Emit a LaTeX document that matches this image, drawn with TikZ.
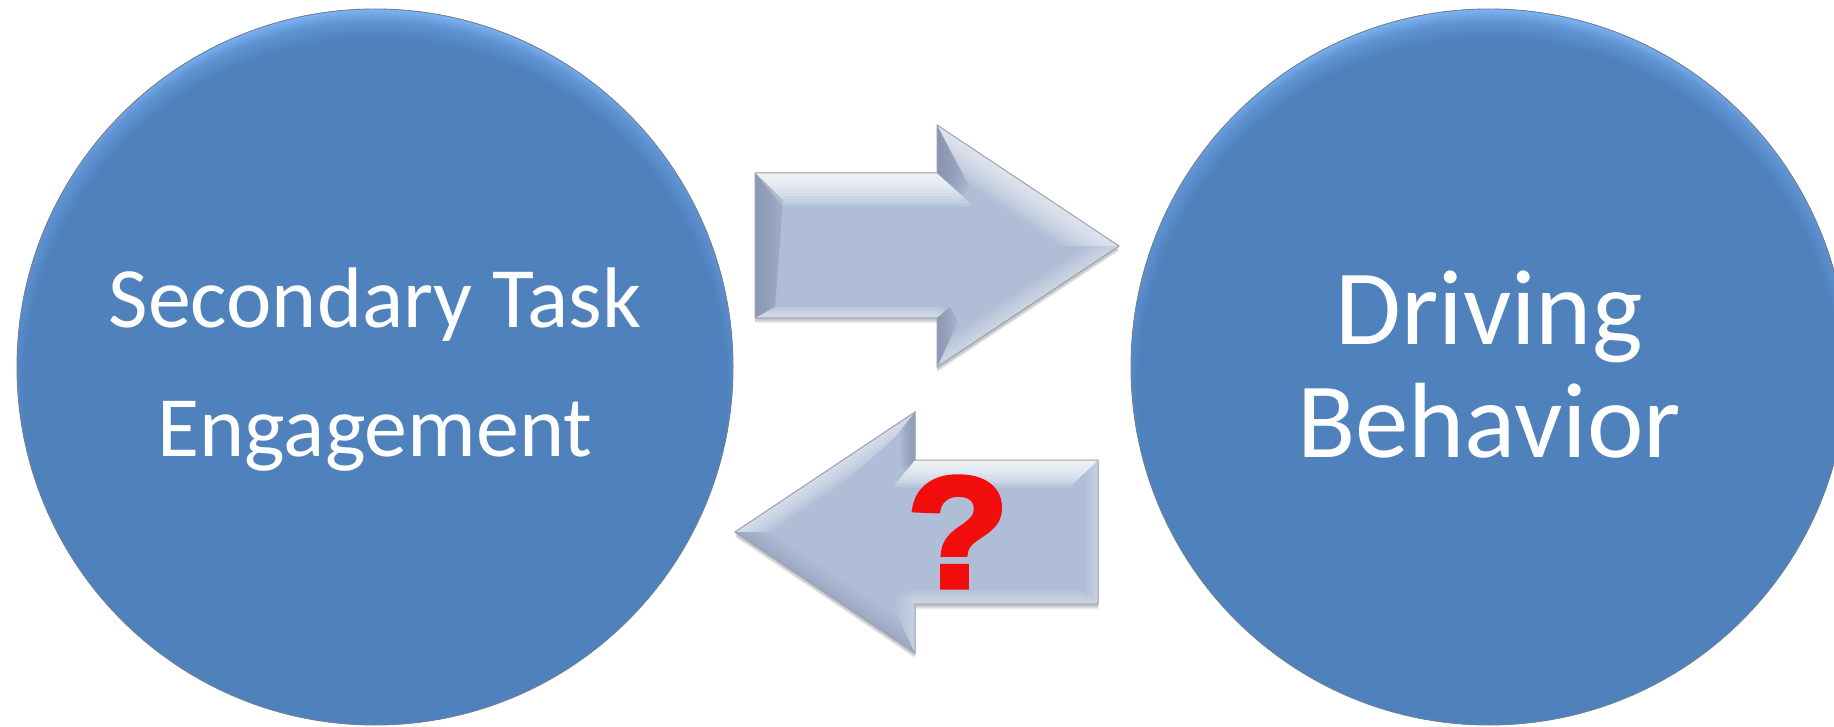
\documentclass[tikz,border=0pt]{standalone}
\usepackage{fontspec}
\setmainfont{Carlito}
\newfontfamily\qfont[BoldFeatures={FakeBold=3.2,FakeStretch=1.06}]{Liberation Sans}
\definecolor{ballbase}{HTML}{4F81BD}
\definecolor{ballmid}{HTML}{5F93D2}
\definecolor{balllight}{HTML}{7DB4F5}
\definecolor{ballline}{HTML}{6F8296}
\definecolor{arrowbase}{HTML}{AFBDD6}
\definecolor{arrowdark}{HTML}{7F8EA6}
\definecolor{arrowline}{HTML}{98A3B3}
\definecolor{qred}{HTML}{F20D0D}
\pgfdeclareradialshading{rimshade}{\pgfpoint{0bp}{0bp}}{color(0bp)=(ballbase); color(23.1bp)=(ballbase); color(24.2bp)=(ballmid); color(25bp)=(balllight); color(50bp)=(balllight)}
\tikzset{
  ball/.style={circle,minimum size=716pt,inner sep=0pt,draw=ballline,line width=0.9pt,
    path picture={\fill[shading=rimshade]([yshift=-22pt]path picture bounding box.center) circle (380pt);}},
  balltext/.style={text=white,align=center},
  arrowshape/.style={fill=arrowbase,draw=none},
  arrowedge/.style={draw=arrowline,line width=1pt,line join=miter},
  softshadow/.style={fill=black!45,opacity=.16,draw=none},
  qmark/.style={text=qred,inner sep=0pt,font=\qfont\bfseries\fontsize{158}{158}\selectfont}
}
% polygon, edge, colour, full width, opacity per step
\newcommand{\facet}[5]{\begin{scope}\clip #1;
  \foreach \w in {0.1,0.2,...,1.01}{\draw[line width={#4*\w},color=#3,opacity=#5,line cap=round] #2;}
\end{scope}}
\begin{document}
\begin{tikzpicture}[x=1pt,y=-1pt]
\useasboundingbox (0,0) rectangle (1834,727);
\clip (0,0) rectangle (1834,727);
\fill[white] (0,0) rectangle (1834,727);
\node[ball] (task) at (375,367) {};
\node[ball] (drive) at (1489,367) {};
\node[balltext,font=\fontsize{86}{129}\selectfont] (tasktext) at (375,370) {Secondary Task\\Engagement};
\node[balltext,font=\fontsize{107}{113}\selectfont] (drivetext) at (1489,365) {Driving\\Behavior};
% right arrow
\def\ra{(755,173)--(937,173)--(937,125)--(1119,246)--(937,367)--(937,318)--(755,318)--cycle}
\foreach \s in {2,3,4,5}{\fill[softshadow] ([yshift=-\s pt]755,173)--([yshift=-\s pt]937,173)--([yshift=-\s pt]937,125)--([yshift=-\s pt]1119,246)--([yshift=-\s pt]937,367)--([yshift=-\s pt]937,318)--([yshift=-\s pt]755,318)--cycle;}
\fill[arrowshape] \ra;
\facet{(755,173)--(937,173)--(975,208)--(783,208)--cycle}{(755,173)--(937,173)--(975,173)}{white}{66pt}{.16}
\facet{(755,173)--(783,200)--(775,307)--(755,318)--cycle}{(755,173)--(755,318)}{arrowdark}{70pt}{.11}
\facet{(755,318)--(775,307)--(950,307)--(937,318)--cycle}{(755,318)--(937,318)}{white}{24pt}{.07}
\facet{(937,125)--(937,173)--(970,202)--(975,196)--cycle}{(937,125)--(937,173)}{arrowdark}{70pt}{.13}
\facet{(937,125)--(1119,246)--(1050,246)--(975,198)--cycle}{(937,125)--(1119,246)}{white}{64pt}{.09}
\facet{(1119,246)--(937,367)--(958,322)--(1060,246)--cycle}{(1119,246)--(937,367)}{white}{36pt}{.05}
\facet{(937,318)--(937,367)--(958,322)--(950,307)--cycle}{(937,318)--(937,367)}{arrowdark}{44pt}{.11}
\draw[arrowedge] \ra;
% left arrow
\def\la{(1098,460)--(915,460)--(915,412)--(735,532)--(915,653)--(915,604)--(1098,604)--cycle}
\foreach \s in {2,3,4,5}{\fill[softshadow] ([yshift=-\s pt]1098,460)--([yshift=-\s pt]915,460)--([yshift=-\s pt]915,412)--([yshift=-\s pt]735,532)--([yshift=-\s pt]915,653)--([yshift=-\s pt]915,604)--([yshift=-\s pt]1098,604)--cycle;}
\fill[arrowshape] \la;
\facet{(1098,460)--(915,460)--(893,487)--(1070,487)--cycle}{(885,460)--(915,460)--(1098,460)}{white}{54pt}{.16}
\facet{(1098,460)--(1070,487)--(1070,582)--(1098,604)--cycle}{(1098,460)--(1098,604)}{white}{26pt}{.04}
\facet{(1098,604)--(1070,582)--(890,582)--(915,604)--cycle}{(915,604)--(1098,604)}{white}{30pt}{.05}
\facet{(915,412)--(915,460)--(893,487)--(895,437)--cycle}{(915,412)--(915,460)}{arrowdark}{30pt}{.09}
\facet{(915,412)--(735,532)--(790,532)--(895,437)--cycle}{(915,412)--(735,532)}{white}{40pt}{.07}
\facet{(735,532)--(915,653)--(890,600)--(790,532)--cycle}{(735,532)--(915,653)}{arrowdark}{40pt}{.035}
\facet{(915,604)--(915,653)--(890,600)--(890,582)--cycle}{(915,604)--(915,653)}{white}{40pt}{.04}
\draw[arrowedge] \la;
\node[qmark] (question) at (958,532) {?};
\end{tikzpicture}
\end{document}
